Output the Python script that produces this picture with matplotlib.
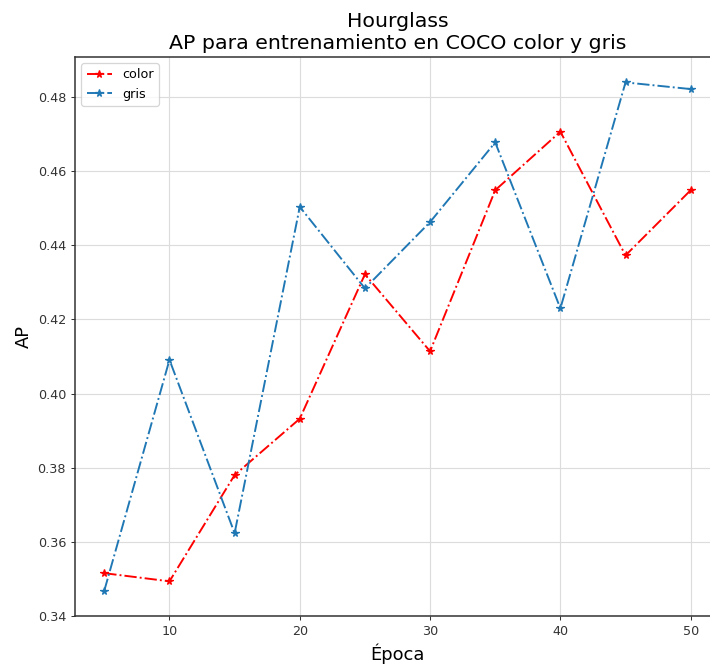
import matplotlib
matplotlib.use('Agg')
import matplotlib.pyplot as plt

# Datos
epocas = [5, 10, 15, 20, 25, 30, 35, 40, 45, 50]
ap_color = [0.3515, 0.3493, 0.3780, 0.3932, 0.4322, 0.4114, 0.4549, 0.4707, 0.4373, 0.4549]
ap_gris = [0.3468, 0.4091, 0.3623, 0.4504, 0.4284, 0.4463, 0.4678, 0.4230, 0.4840, 0.4822]

DPI = 92
fig = plt.figure(figsize=(710 / DPI, 667 / DPI), dpi=DPI)
# the original screenshot cuts off the right spine
ax = fig.add_axes([75 / 710, 51 / 667, 645 / 710, 559 / 667])

ax.plot(epocas, ap_color, marker='*', linestyle='-.', color='red', label='color')
ax.plot(epocas, ap_gris, marker='*', linestyle='-.', color='#1f77b4', label='gris')

ax.set_title('Hourglass\nAP para entrenamiento en COCO color y gris', fontsize=16)
ax.set_xlabel('Época', fontsize=14)
ax.set_ylabel('AP', fontsize=14)
ax.set_yticks([0.34, 0.36, 0.38, 0.40, 0.42, 0.44, 0.46, 0.48])
ax.set_xticks([10, 20, 30, 40, 50])
ax.tick_params(colors='#333333')
ax.grid(True, color='#dcdcdc', linewidth=0.9)
for s in ax.spines.values():
    s.set_color('#333333')
    s.set_linewidth(1.2)
ax.spines['right'].set_visible(False)
ax.legend(loc='upper left')

fig.savefig('out.png', dpi=DPI)
